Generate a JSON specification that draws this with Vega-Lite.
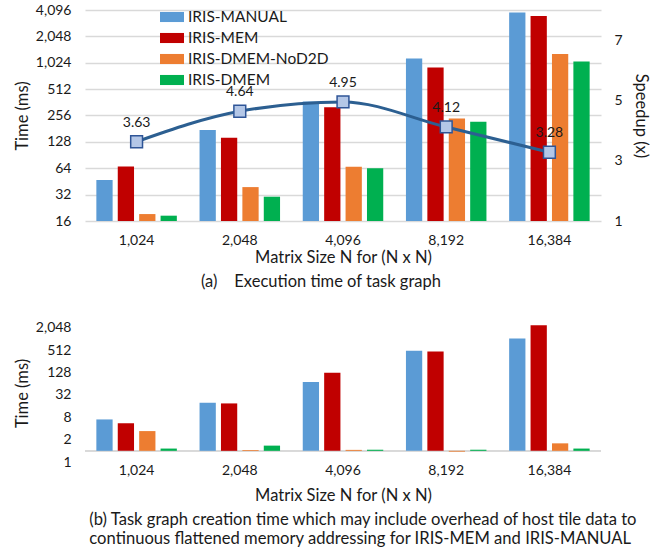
{
  "$schema": "https://vega.github.io/schema/vega-lite/v6.json",
  "padding": {"top": 3, "left": 14, "right": 5, "bottom": 5},
  "config": {
    "font": "Lato",
    "view": {"stroke": null},
    "axis": {
      "labelFont": "Lato", "labelFontSize": 14, "labelColor": "#1a1a1a",
      "titleFont": "Lato", "titleFontSize": 16.5, "titleFontWeight": "normal", "titleColor": "#1a1a1a",
      "gridColor": "#d9d9d9", "gridWidth": 1.3, "domain": false, "ticks": false
    }
  },
  "datasets": {
    "exec": [
      {"N": "1,024", "series": "IRIS-MANUAL", "time": 47},
      {"N": "1,024", "series": "IRIS-MEM", "time": 67},
      {"N": "1,024", "series": "IRIS-DMEM-NoD2D", "time": 19.2},
      {"N": "1,024", "series": "IRIS-DMEM", "time": 18.4},
      {"N": "2,048", "series": "IRIS-MANUAL", "time": 175},
      {"N": "2,048", "series": "IRIS-MEM", "time": 143},
      {"N": "2,048", "series": "IRIS-DMEM-NoD2D", "time": 39},
      {"N": "2,048", "series": "IRIS-DMEM", "time": 30.3},
      {"N": "4,096", "series": "IRIS-MANUAL", "time": 370},
      {"N": "4,096", "series": "IRIS-MEM", "time": 317},
      {"N": "4,096", "series": "IRIS-DMEM-NoD2D", "time": 66.6},
      {"N": "4,096", "series": "IRIS-DMEM", "time": 64},
      {"N": "8,192", "series": "IRIS-MANUAL", "time": 1146},
      {"N": "8,192", "series": "IRIS-MEM", "time": 905},
      {"N": "8,192", "series": "IRIS-DMEM-NoD2D", "time": 237},
      {"N": "8,192", "series": "IRIS-DMEM", "time": 217},
      {"N": "16,384", "series": "IRIS-MANUAL", "time": 3830},
      {"N": "16,384", "series": "IRIS-MEM", "time": 3490},
      {"N": "16,384", "series": "IRIS-DMEM-NoD2D", "time": 1285},
      {"N": "16,384", "series": "IRIS-DMEM", "time": 1060}
    ],
    "speed": [
      {"N": "1,024", "speedup": 3.63},
      {"N": "2,048", "speedup": 4.64},
      {"N": "4,096", "speedup": 4.95},
      {"N": "8,192", "speedup": 4.12},
      {"N": "16,384", "speedup": 3.28}
    ],
    "create": [
      {"N": "1,024", "series": "IRIS-MANUAL", "time": 7.0},
      {"N": "1,024", "series": "IRIS-MEM", "time": 5.5},
      {"N": "1,024", "series": "IRIS-DMEM-NoD2D", "time": 3.4},
      {"N": "1,024", "series": "IRIS-DMEM", "time": 1.15},
      {"N": "2,048", "series": "IRIS-MANUAL", "time": 19.7},
      {"N": "2,048", "series": "IRIS-MEM", "time": 18.9},
      {"N": "2,048", "series": "IRIS-DMEM-NoD2D", "time": 1.05},
      {"N": "2,048", "series": "IRIS-DMEM", "time": 1.38},
      {"N": "4,096", "series": "IRIS-MANUAL", "time": 71},
      {"N": "4,096", "series": "IRIS-MEM", "time": 126},
      {"N": "4,096", "series": "IRIS-DMEM-NoD2D", "time": 1.06},
      {"N": "4,096", "series": "IRIS-DMEM", "time": 1.07},
      {"N": "8,192", "series": "IRIS-MANUAL", "time": 495},
      {"N": "8,192", "series": "IRIS-MEM", "time": 472},
      {"N": "8,192", "series": "IRIS-DMEM-NoD2D", "time": 0.95},
      {"N": "8,192", "series": "IRIS-DMEM", "time": 1.07},
      {"N": "16,384", "series": "IRIS-MANUAL", "time": 1057},
      {"N": "16,384", "series": "IRIS-MEM", "time": 2420},
      {"N": "16,384", "series": "IRIS-DMEM-NoD2D", "time": 1.59},
      {"N": "16,384", "series": "IRIS-DMEM", "time": 1.15}
    ]
  },
  "spacing": 30,
  "vconcat": [
    {
      "width": 516,
      "height": 211,
      "title": {"text": "(a)\u00a0\u00a0\u00a0 Execution time of task graph", "orient": "bottom", "anchor": "middle", "dx": -22, "offset": 8, "fontSize": 16.5, "fontWeight": "normal", "color": "#1a1a1a", "font": "Lato"},
      "layer": [
        {
          "data": {"name": "exec"},
          "mark": {"type": "bar"},
          "encoding": {
            "x": {"field": "N", "type": "nominal", "sort": ["1,024", "2,048", "4,096", "8,192", "16,384"], "scale": {"paddingInner": 0.22, "paddingOuter": 0.11}, "axis": {"title": "Matrix Size N for (N x N)", "labelAngle": 0, "labelPadding": 12, "titlePadding": 2, "grid": false}},
            "xOffset": {"field": "series", "sort": ["IRIS-MANUAL", "IRIS-MEM", "IRIS-DMEM-NoD2D", "IRIS-DMEM"], "scale": {"paddingInner": 0.24, "paddingOuter": 0}},
            "y": {"field": "time", "type": "quantitative", "scale": {"type": "log", "base": 2, "domain": [16, 4096]}, "axis": {"values": [16, 32, 64, 128, 256, 512, 1024, 2048, 4096], "format": ",", "title": "Time (ms)", "labelPadding": 14, "titlePadding": 5}},
            "y2": {"datum": 16},
            "color": {"field": "series", "type": "nominal", "scale": {"domain": ["IRIS-MANUAL", "IRIS-MEM", "IRIS-DMEM-NoD2D", "IRIS-DMEM"], "range": ["#5B9BD5", "#C00000", "#ED7D31", "#00B050"]}, "legend": {"orient": "none", "legendX": 75, "legendY": -5, "title": null, "symbolType": "M-1,-0.42H1V0.42H-1Z", "symbolSize": 576, "symbolStrokeWidth": 0, "labelFontSize": 15.5, "labelFont": "Lato", "labelColor": "#1a1a1a", "labelOffset": 4, "rowPadding": -2}}
          }
        },
        {
          "data": {"name": "speed"},
          "encoding": {
            "x": {"field": "N", "type": "nominal", "sort": ["1,024", "2,048", "4,096", "8,192", "16,384"], "axis": {"title": "Matrix Size N for (N x N)", "labelAngle": 0, "labelPadding": 12, "titlePadding": 2, "grid": false}},
            "y": {"field": "speedup", "type": "quantitative", "scale": {"domain": [1, 8]}, "axis": {"orient": "right", "values": [1, 3, 5, 7], "grid": false, "title": "Speedup (x)", "labelPadding": 13, "titlePadding": 10}}
          },
          "layer": [
            {"mark": {"type": "line", "interpolate": "monotone", "color": "#2C5F91", "strokeWidth": 3}},
            {"mark": {"type": "point", "shape": "square", "size": 140, "filled": true, "fill": "#B4C7E7", "stroke": "#2F5597", "strokeWidth": 1.5, "opacity": 1}},
            {"mark": {"type": "text", "dy": -19, "fontSize": 14, "font": "Lato", "color": "#1a1a1a"}, "encoding": {"text": {"field": "speedup", "type": "quantitative", "format": ".2f"}}}
          ]
        }
      ],
      "resolve": {"scale": {"y": "independent"}}
    },
    {
      "width": 516,
      "height": 138,
      "data": {"name": "create"},
      "title": {"text": ["(b) Task graph creation time which may include overhead of host tile data to", "continuous flattened memory addressing for IRIS-MEM and IRIS-MANUAL"], "orient": "bottom", "anchor": "start", "dx": 75, "offset": 8, "fontSize": 16.6, "lineHeight": 19, "fontWeight": "normal", "color": "#1a1a1a", "font": "Lato"},
      "layer": [
        {
          "mark": {"type": "rule", "color": "#d9d9d9", "strokeWidth": 1.3},
          "encoding": {"y": {"datum": 1, "type": "quantitative", "scale": {"type": "log", "base": 2, "domain": [0.5, 2600]}}}
        },
        {
          "mark": {"type": "bar"},
          "encoding": {
            "x": {"field": "N", "type": "nominal", "sort": ["1,024", "2,048", "4,096", "8,192", "16,384"], "scale": {"paddingInner": 0.22, "paddingOuter": 0.11}, "axis": {"title": "Matrix Size N for (N x N)", "labelAngle": 0, "labelPadding": 1, "titlePadding": 10, "grid": false}},
            "xOffset": {"field": "series", "sort": ["IRIS-MANUAL", "IRIS-MEM", "IRIS-DMEM-NoD2D", "IRIS-DMEM"], "scale": {"paddingInner": 0.26, "paddingOuter": 0}},
            "y": {"field": "time", "type": "quantitative", "scale": {"type": "log", "base": 2, "domain": [0.5, 2600]}, "axis": {"values": [0.5, 2, 8, 32, 128, 512, 2048], "labelExpr": "datum.value < 1 ? '1' : format(datum.value, ',')", "title": "Time (ms)", "labelPadding": 14, "titlePadding": 5}},
            "y2": {"datum": 1},
            "color": {"field": "series", "type": "nominal", "scale": {"domain": ["IRIS-MANUAL", "IRIS-MEM", "IRIS-DMEM-NoD2D", "IRIS-DMEM"], "range": ["#5B9BD5", "#C00000", "#ED7D31", "#00B050"]}, "legend": null}
          }
        }
      ]
    }
  ]
}
